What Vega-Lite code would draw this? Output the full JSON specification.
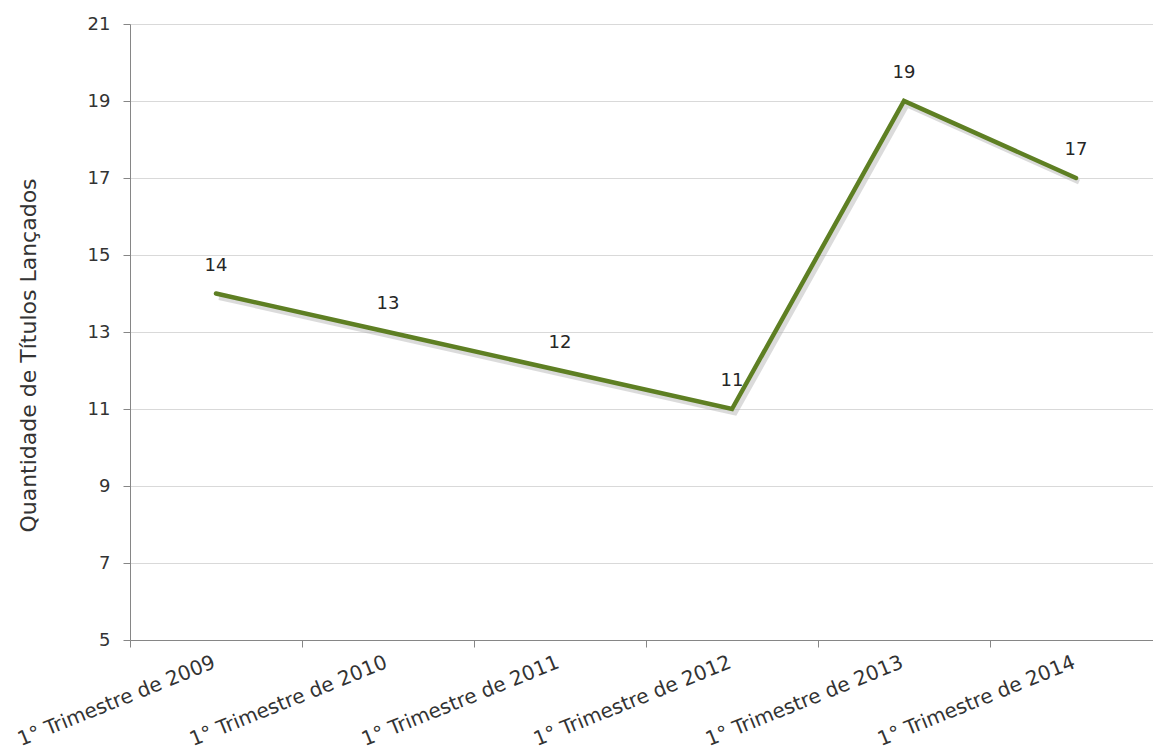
{
  "$schema": "https://vega.github.io/schema/vega-lite/v6.json",
  "width": 1032,
  "height": 616,
  "autosize": {"type": "none"},
  "padding": {"left": 130, "top": 24, "right": 0, "bottom": 116},
  "background": "white",
  "config": {"view": {"stroke": null}, "font": "DejaVu Sans"},
  "data": {"values": [
    {"periodo": "1° Trimestre de 2009", "qtd": 14},
    {"periodo": "1° Trimestre de 2010", "qtd": 13},
    {"periodo": "1° Trimestre de 2011", "qtd": 12},
    {"periodo": "1° Trimestre de 2012", "qtd": 11},
    {"periodo": "1° Trimestre de 2013", "qtd": 19},
    {"periodo": "1° Trimestre de 2014", "qtd": 17}
  ]},
  "encoding": {
    "x": {"field": "periodo", "type": "nominal", "sort": null,
      "scale": {"type": "band", "paddingInner": 0, "paddingOuter": 0},
      "axis": {"title": null, "labelAngle": -22, "labelAlign": "right", "labelBaseline": "top",
        "labelFontSize": 20, "labelColor": "#333333", "labelPadding": 5, "labelLimit": 0, "labelOffset": -6,
        "domainColor": "#868686", "tickColor": "#868686", "tickSize": 7, "tickBand": "extent",
        "grid": false, "labelOverlap": false, "labelFont": "DejaVu Sans"}},
    "y": {"field": "qtd", "type": "quantitative",
      "scale": {"domain": [5, 21], "nice": false, "zero": false},
      "axis": {"values": [5, 7, 9, 11, 13, 15, 17, 19, 21], "title": "Quantidade de Títulos Lançados",
        "titleFontSize": 22, "titleFontWeight": "normal", "titleColor": "#333333", "titlePadding": 47,
        "titleFont": "DejaVu Sans", "titleY": 331,
        "labelFontSize": 18, "labelColor": "#333333", "labelPadding": 13, "labelFont": "DejaVu Sans",
        "domainColor": "#868686", "tickColor": "#868686", "tickSize": 7,
        "gridColor": "#d9d9d9", "gridWidth": 1}}
  },
  "layer": [
    {"mark": {"type": "line", "color": "#b0b0b0", "strokeWidth": 5, "opacity": 0.45, "xOffset": 3, "yOffset": 4}},
    {"mark": {"type": "line", "color": "#5e7f23", "strokeWidth": 4.5, "strokeCap": "round", "strokeJoin": "miter"}},
    {"mark": {"type": "text", "dy": -28, "fontSize": 18, "color": "#262626", "font": "DejaVu Sans"},
     "encoding": {"text": {"field": "qtd", "type": "quantitative"}}}
  ]
}
